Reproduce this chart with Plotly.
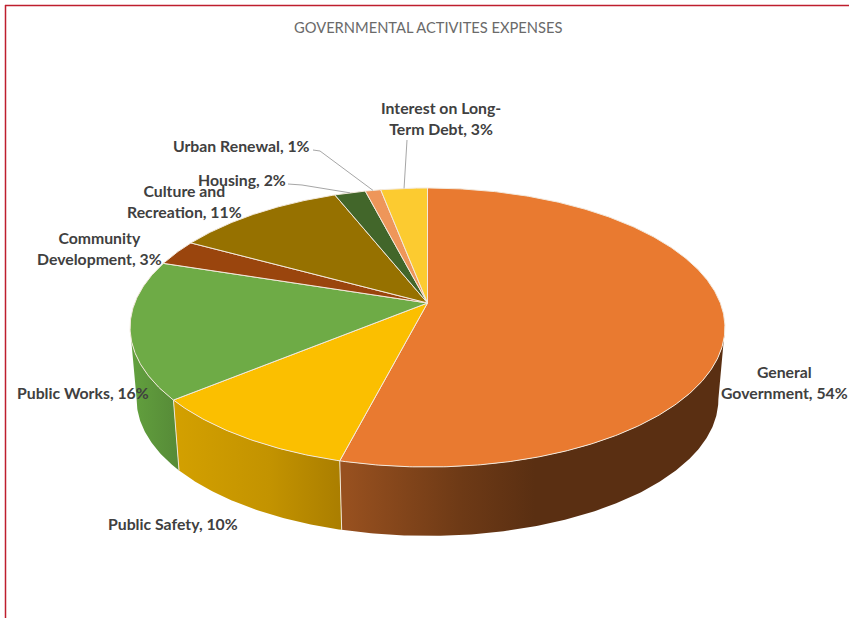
import math
import plotly.graph_objects as go

# Chart data
title_text = "GOVERNMENTAL ACTIVITES EXPENSES"
categories = [
    "General Government", "Public Safety", "Public Works", "Community Development",
    "Culture and Recreation", "Housing", "Urban Renewal", "Interest on Long-Term Debt",
]
shares = [54, 10, 16, 3, 11, 2, 1, 3]
top_colors = ["#E97A30", "#FBBF00", "#6EAB46", "#9A450D", "#967100", "#42662A", "#EE965A", "#FCCB30"]

# Label text (broken the way it wraps on the chart) and placement as (x, y) centre
label_lines = [
    "General<br>Government, {}%", "Public Safety, {}%", "Public Works, {}%",
    "Community<br>Development, {}%", "Culture and<br>Recreation, {}%",
    "Housing, {}%", "Urban Renewal, {}%", "Interest on Long-<br>Term Debt, {}%",
]
label_xy = [(784, 382), (173, 523), (83, 392), (99, 248), (184, 201), (242, 179), (241, 145), (441, 118)]

# Horizontal shading of the rim for each slice that faces the viewer
side_shades = {
    0: (347, 535, [(0, "#97501F"), (0.6, "#6E3A16"), (1, "#5A2F12")]),
    1: (175, 347, [(0, "#D3A000"), (0.55, "#C39300"), (1, "#A87C00")]),
    2: (132, 179, [(0, "#62A03E"), (1, "#568A37")]),
}

# Perspective disc geometry
CX, CY = 427.5, 303
DISC_A, DISC_B, TILT = 292.8, 135.2, 0.1757
FOOT_SCALE, FOOT_DROP = 0.978, 72.5
FRONT_START, FRONT_END = 100.0, 260.0


def rim(theta_deg, scale=1.0, drop=0.0):
    t = math.radians(theta_deg)
    d = 1 + TILT * math.cos(t)
    return (CX + scale * DISC_A * math.sin(t) / d,
            CY - scale * DISC_B * math.cos(t) / d + drop)


def arc(a, b, scale=1.0, drop=0.0):
    n = max(2, int(abs(b - a) * 2))
    return [rim(a + (b - a) * i / n, scale, drop) for i in range(n + 1)]


total = sum(shares)
edges = [0.0]
for s in shares:
    edges.append(edges[-1] + 360.0 * s / total)

fig = go.Figure()

# Rim of the disc, drawn under the top face
for i, (start, stop, scale_stops) in side_shades.items():
    a, b = max(edges[i], FRONT_START), min(edges[i + 1], FRONT_END)
    pts = arc(a, b) + arc(b, a, FOOT_SCALE, FOOT_DROP)
    pts.append(pts[0])
    fig.add_trace(go.Scatter(
        x=[p[0] for p in pts], y=[p[1] for p in pts], mode="lines", fill="toself",
        line=dict(width=0), hoverinfo="skip", showlegend=False,
        fillgradient=dict(type="horizontal", start=start, stop=stop, colorscale=scale_stops),
    ))

# Light seams where rim sections meet
for i in (1, 2):
    p, q = rim(edges[i]), rim(edges[i], FOOT_SCALE, FOOT_DROP)
    fig.add_trace(go.Scatter(x=[p[0], q[0]], y=[p[1], q[1]], mode="lines",
                             line=dict(color="#EFE6D6", width=1), hoverinfo="skip", showlegend=False))

# Top face wedges
for i, name in enumerate(categories):
    pts = [(CX, CY)] + arc(edges[i], edges[i + 1]) + [(CX, CY)]
    fig.add_trace(go.Scatter(
        x=[p[0] for p in pts], y=[p[1] for p in pts], mode="lines", fill="toself",
        fillcolor=top_colors[i], line=dict(color="#F3E9DC", width=1),
        name=name, hoverinfo="name", showlegend=False,
    ))

# Leader lines for the narrow slices at the top: slice index -> (label end, elbow)
leaders = {5: [(288, 184), (302, 185)], 6: [(313, 150), (320, 151)], 7: [(407, 140)]}
for i, start_pts in leaders.items():
    end = rim((edges[i] + edges[i + 1]) / 2)
    pts = start_pts + [end]
    fig.add_trace(go.Scatter(x=[p[0] for p in pts], y=[p[1] for p in pts], mode="lines",
                             line=dict(color="#A6A6A6", width=1), hoverinfo="skip", showlegend=False))

annotations = [
    dict(x=x, y=y, xref="x", yref="y", text="<b>" + txt.format(s) + "</b>", showarrow=False,
         align="center", xanchor="center", yanchor="middle",
         font=dict(family="Lato", size=15.8, color="#404040"))
    for txt, s, (x, y) in zip(label_lines, shares, label_xy)
]
annotations.append(dict(x=428.5, y=27, xref="x", yref="y", text=title_text, showarrow=False,
                        xanchor="center", yanchor="middle",
                        font=dict(family="Lato", size=14.7, color="#6A6A6A")))

# Frame along the top and left of the sheet
shapes = [
    dict(type="line", xref="x", yref="y", x0=5, x1=849, y0=5.5, y1=5.5, line=dict(color="#BE1E2D", width=1.5)),
    dict(type="line", xref="x", yref="y", x0=5.5, x1=5.5, y0=5, y1=618, line=dict(color="#BE1E2D", width=1.5)),
]

fig.update_layout(
    width=849, height=618, margin=dict(l=0, r=0, t=0, b=0),
    paper_bgcolor="white", plot_bgcolor="white",
    xaxis=dict(range=[0, 849], visible=False, fixedrange=True),
    yaxis=dict(range=[618, 0], visible=False, fixedrange=True),
    annotations=annotations, shapes=shapes, showlegend=False,
)

fig.write_html("out.html", config={"displayModeBar": False})
